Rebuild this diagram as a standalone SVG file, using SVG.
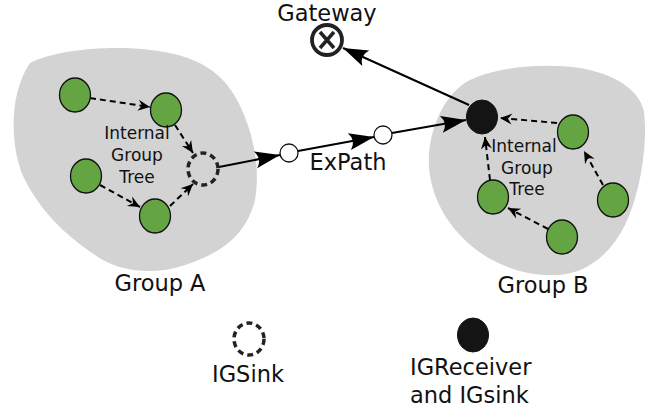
<svg xmlns="http://www.w3.org/2000/svg" width="645" height="414" viewBox="0 0 645 414">
  <style>
    text { font-family: "DejaVu Sans", "Liberation Sans", sans-serif; fill: #111; }
    .big { font-size: 22.5px; }
    .small { font-size: 17px; }
    .blob { fill: #d3d3d3; stroke: none; }
    .member { fill: #65a443; stroke: #111; stroke-width: 1.3; }
    .sink { fill: none; stroke: #222; stroke-width: 3.5; stroke-dasharray: 6 4; }
    .receiver { fill: #141414; stroke: #141414; stroke-width: 1; }
    .hop { fill: #fff; stroke: #111; stroke-width: 1.3; }
    .solid { fill: none; stroke: #000; stroke-width: 2; marker-end: url(#bigHead); }
    .dashed { fill: none; stroke: #000; stroke-width: 2; stroke-dasharray: 6 4; marker-end: url(#smallHead); }
  </style>
  <defs>
    <marker id="bigHead" markerUnits="userSpaceOnUse" viewBox="-26 -10 28 20" refX="0" refY="0" markerWidth="28" markerHeight="20" orient="auto">
      <path d="M0,0 L-25,-8.5 Q-18,0 -25,8.5 Z" fill="#000"/>
    </marker>
    <marker id="smallHead" markerUnits="userSpaceOnUse" viewBox="-13 -7 14 14" refX="0" refY="0" markerWidth="14" markerHeight="14" orient="auto">
      <path d="M0,0 L-12,-5.5 L-8,0 L-12,5.5 Z" fill="#000"/>
    </marker>
  </defs>

  <!-- group regions -->
  <g id="group-a-region">
    <path class="blob" d="M30,63 C55,50 110,45 150,50 C195,55 225,70 242,110 C255,140 260,170 255,200 C245,240 215,255 185,265 C150,277 115,270 95,255 C65,235 40,210 25,180 C10,150 8,95 30,63 Z"/>
  </g>
  <g id="group-b-region">
    <path class="blob" d="M470,80 C495,68 540,62 580,68 C615,74 640,90 644,112 C648,145 640,195 625,225 C610,255 585,275 555,275 C520,276 485,262 460,235 C435,208 425,175 430,145 C435,115 450,90 470,80 Z"/>
  </g>

  <!-- connectors -->
  <g id="connectors">
    <line class="dashed" x1="90" y1="98" x2="150" y2="107"/>
    <line class="dashed" x1="175" y1="125" x2="193" y2="153"/>
    <line class="dashed" x1="100" y1="185" x2="140" y2="207"/>
    <line class="dashed" x1="170" y1="206" x2="193" y2="184"/>
    <line class="solid" x1="219" y1="167" x2="280" y2="155"/>
    <line class="solid" x1="298" y1="151" x2="374" y2="137"/>
    <line class="solid" x1="392" y1="133" x2="466" y2="120"/>
    <line class="solid" x1="469" y1="105" x2="343" y2="48"/>
    <line class="dashed" x1="557" y1="123" x2="500" y2="118"/>
    <line class="dashed" x1="603" y1="185" x2="584" y2="151"/>
    <line class="dashed" x1="490" y1="180" x2="485" y2="137"/>
    <line class="dashed" x1="548" y1="229" x2="508" y2="208"/>
  </g>

  <!-- group A members -->
  <g id="a-member-1"><ellipse class="member" cx="75" cy="95" rx="15.5" ry="17"/></g>
  <g id="a-member-2"><ellipse class="member" cx="166" cy="110" rx="15.5" ry="17"/></g>
  <g id="a-member-3"><ellipse class="member" cx="86" cy="176" rx="15.5" ry="17"/></g>
  <g id="a-member-4"><ellipse class="member" cx="155" cy="216" rx="15.5" ry="17"/></g>
  <g id="a-sink"><ellipse class="sink" cx="203" cy="169" rx="15" ry="16"/></g>
  <g id="a-label">
    <text class="small" x="137" y="139" text-anchor="middle">Internal</text>
    <text class="small" x="137" y="161" text-anchor="middle">Group</text>
    <text class="small" x="137" y="183" text-anchor="middle">Tree</text>
    <text class="big" x="160" y="291" text-anchor="middle">Group A</text>
  </g>

  <!-- external path hops -->
  <g id="hop-1"><circle class="hop" cx="289" cy="153" r="9"/></g>
  <g id="hop-2"><circle class="hop" cx="383" cy="135" r="9"/></g>
  <g id="expath-label"><text class="big" x="348" y="170" text-anchor="middle">ExPath</text></g>

  <!-- gateway -->
  <g id="gateway">
    <circle cx="327" cy="40" r="15" fill="#fff" stroke="#222" stroke-width="3.8"/>
    <path d="M320,32 L334,48 M334,32 L320,48" stroke="#222" stroke-width="3.5" fill="none"/>
    <text class="big" x="327" y="21" text-anchor="middle">Gateway</text>
  </g>

  <!-- group B members -->
  <g id="b-receiver"><ellipse class="receiver" cx="482" cy="117" rx="15.5" ry="17"/></g>
  <g id="b-member-1"><ellipse class="member" cx="573" cy="132" rx="15.5" ry="17"/></g>
  <g id="b-member-2"><ellipse class="member" cx="613" cy="200" rx="15.5" ry="17"/></g>
  <g id="b-member-3"><ellipse class="member" cx="493" cy="197" rx="15.5" ry="17"/></g>
  <g id="b-member-4"><ellipse class="member" cx="562" cy="237" rx="15.5" ry="17"/></g>
  <g id="b-label">
    <text class="small" x="524" y="152" text-anchor="middle">Internal</text>
    <text class="small" x="527" y="174" text-anchor="middle">Group</text>
    <text class="small" x="527" y="195" text-anchor="middle">Tree</text>
    <text class="big" x="543" y="293" text-anchor="middle">Group B</text>
  </g>

  <!-- legend -->
  <g id="legend-sink">
    <ellipse class="sink" cx="249" cy="339" rx="15" ry="16"/>
    <text class="big" x="248" y="382" text-anchor="middle">IGSink</text>
  </g>
  <g id="legend-receiver">
    <ellipse class="receiver" cx="473" cy="335" rx="15.5" ry="17"/>
    <text class="big" x="410" y="375">IGReceiver</text>
    <text class="big" x="410" y="403">and IGsink</text>
  </g>
</svg>
